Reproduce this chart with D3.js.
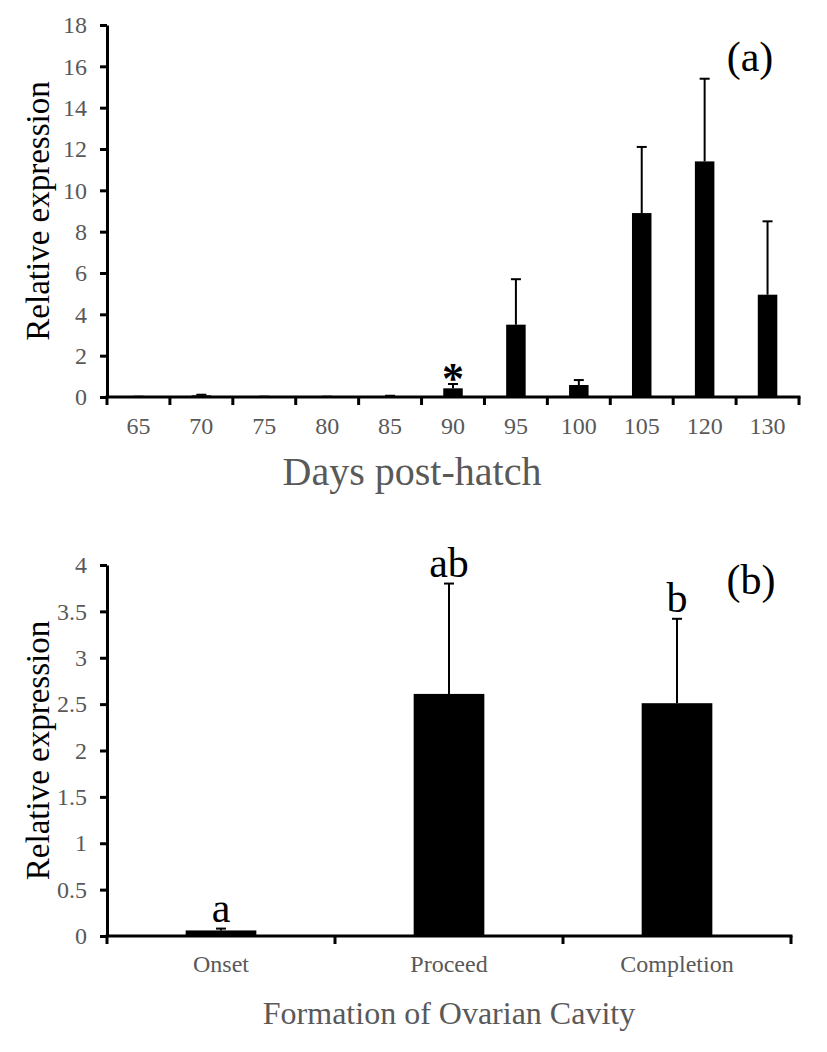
<!DOCTYPE html>
<html>
<head>
<meta charset="utf-8">
<script src="https://cdn.jsdelivr.net/npm/d3@7/dist/d3.min.js"></script>
<style>
  html, body { margin: 0; padding: 0; background: #fff; }
  svg { display: block; }
</style>
</head>
<body>
<svg id="chart" width="827" height="1052"></svg>
<script>
// ---- Panel (a) data ----
const dayCategories = ["65", "70", "75", "80", "85", "90", "95", "100", "105", "120", "130"];
const dayMeans      = [0.01, 0.08, 0.01, 0.01, 0.04, 0.42, 3.5, 0.58, 8.9, 11.4, 4.95];
const dayErrors     = [0.005, 0.03, 0.005, 0.005, 0.02, 0.21, 2.2, 0.24, 3.2, 4.0, 3.55];
const dayMarks      = ["", "", "", "", "", "*", "", "", "", "", ""];
const dayTicks      = [0, 2, 4, 6, 8, 10, 12, 14, 16, 18];

// ---- Panel (b) data ----
const cavityCategories = ["Onset", "Proceed", "Completion"];
const cavityMeans      = [0.06, 2.61, 2.51];
const cavityErrors     = [0.02, 1.19, 0.91];
const cavityLetters    = ["a", "ab", "b"];
const cavityTicks      = [0, 0.5, 1, 1.5, 2, 2.5, 3, 3.5, 4];

const FONT = '"Liberation Serif", "Times New Roman", Times, "DejaVu Serif", serif';
const svg = d3.select("#chart").style("font-family", FONT);
const GRAY = "#595959";

function panel(cfg) {
  const g = svg.append("g");
  const x = d3.scaleBand().domain(cfg.cats).range([cfg.left, cfg.right]).padding(0);
  const y = d3.scaleLinear().domain([0, cfg.ymax]).range([cfg.bottom, cfg.top]);
  const bw = x.bandwidth() * cfg.barFrac;

  // bars
  g.selectAll("rect.bar").data(cfg.cats).join("rect")
    .attr("x", d => x(d) + (x.bandwidth() - bw) / 2)
    .attr("y", (d, i) => y(cfg.means[i]))
    .attr("width", bw)
    .attr("height", (d, i) => y(0) - y(cfg.means[i]))
    .attr("fill", "#000");

  // error bars
  const eb = g.selectAll("g.err").data(cfg.cats).join("g");
  eb.append("line")
    .attr("x1", d => x(d) + x.bandwidth() / 2)
    .attr("x2", d => x(d) + x.bandwidth() / 2)
    .attr("y1", (d, i) => y(cfg.means[i]))
    .attr("y2", (d, i) => y(cfg.means[i] + cfg.errs[i]))
    .attr("stroke", "#000").attr("stroke-width", 2);
  eb.append("line")
    .attr("x1", d => x(d) + x.bandwidth() / 2 - 5)
    .attr("x2", d => x(d) + x.bandwidth() / 2 + 5)
    .attr("y1", (d, i) => y(cfg.means[i] + cfg.errs[i]))
    .attr("y2", (d, i) => y(cfg.means[i] + cfg.errs[i]))
    .attr("stroke", "#000").attr("stroke-width", 2);

  // y axis
  const yAxis = d3.axisLeft(y).tickValues(cfg.ticks).tickSize(7).tickSizeOuter(0).tickPadding(13)
    .tickFormat(d3.format("~g"));
  const ya = g.append("g").attr("transform", `translate(${cfg.left},0)`).call(yAxis)
    .attr("font-family", null).attr("font-size", null);
  ya.select(".domain").attr("stroke", "#000").attr("stroke-width", 3);
  ya.selectAll(".tick line").attr("stroke", "#000").attr("stroke-width", 3);
  ya.selectAll(".tick text").attr("fill", GRAY)
    .style("font-family", FONT).style("font-size", cfg.tickFont + "px");

  // x axis line and boundary ticks
  g.append("line")
    .attr("x1", cfg.left - 1.5).attr("x2", cfg.right + 1.5)
    .attr("y1", y(0)).attr("y2", y(0))
    .attr("stroke", "#000").attr("stroke-width", 3);
  const bounds = cfg.cats.map(c => x(c)).concat([x.range()[1]]);
  g.selectAll("line.xtick").data(bounds).join("line")
    .attr("x1", d => d).attr("x2", d => d)
    .attr("y1", y(0)).attr("y2", y(0) + 8)
    .attr("stroke", "#000").attr("stroke-width", 3);
  g.selectAll("text.xlab").data(cfg.cats).join("text")
    .attr("x", d => x(d) + x.bandwidth() / 2)
    .attr("y", y(0) + cfg.xLabOffset)
    .attr("text-anchor", "middle")
    .attr("fill", GRAY)
    .style("font-family", FONT)
    .style("font-size", cfg.tickFont + "px")
    .text(d => d);

  // annotations above error bars
  g.selectAll("text.ann").data(cfg.cats).join("text")
    .attr("x", d => x(d) + x.bandwidth() / 2)
    .attr("y", (d, i) => y(cfg.means[i] + cfg.errs[i]) - cfg.annOffset)
    .attr("text-anchor", "middle")
    .attr("fill", "#000")
    .style("font-family", FONT)
    .style("font-size", cfg.annFont + "px")
    .style("font-weight", cfg.annWeight)
    .text((d, i) => cfg.ann[i]);

  // axis titles
  g.append("text")
    .attr("transform", `translate(${cfg.yTitleX},${(cfg.top + cfg.bottom) / 2}) rotate(-90)`)
    .attr("text-anchor", "middle")
    .attr("fill", "#000")
    .style("font-family", FONT)
    .style("font-size", "33px")
    .text("Relative expression");
  g.append("text")
    .attr("x", cfg.xTitleX).attr("y", cfg.xTitleY)
    .attr("text-anchor", "middle")
    .attr("fill", GRAY)
    .style("font-family", FONT)
    .style("font-size", cfg.xTitleFont + "px")
    .text(cfg.xTitle);

  // panel label
  g.append("text")
    .attr("x", cfg.panelX).attr("y", cfg.panelY)
    .attr("text-anchor", "middle")
    .attr("fill", "#000")
    .style("font-family", FONT)
    .style("font-size", "42px")
    .text(cfg.panelLabel);
}

panel({
  cats: dayCategories, means: dayMeans, errs: dayErrors, ann: dayMarks, ticks: dayTicks,
  ymax: 18, left: 107, right: 799, top: 25, bottom: 397, barFrac: 0.31,
  tickFont: 24, xLabOffset: 37, annOffset: -9, annFont: 44, annWeight: "bold",
  yTitleX: 49, xTitle: "Days post-hatch", xTitleX: 412, xTitleY: 485, xTitleFont: 40,
  panelLabel: "(a)", panelX: 750, panelY: 71
});

panel({
  cats: cavityCategories, means: cavityMeans, errs: cavityErrors, ann: cavityLetters, ticks: cavityTicks,
  ymax: 4, left: 107, right: 791, top: 565, bottom: 936, barFrac: 0.31,
  tickFont: 24, xLabOffset: 36, annOffset: 7, annFont: 42, annWeight: "normal",
  yTitleX: 49, xTitle: "Formation of Ovarian Cavity", xTitleX: 449, xTitleY: 1024, xTitleFont: 32,
  panelLabel: "(b)", panelX: 751, panelY: 594
});
</script>
</body>
</html>
